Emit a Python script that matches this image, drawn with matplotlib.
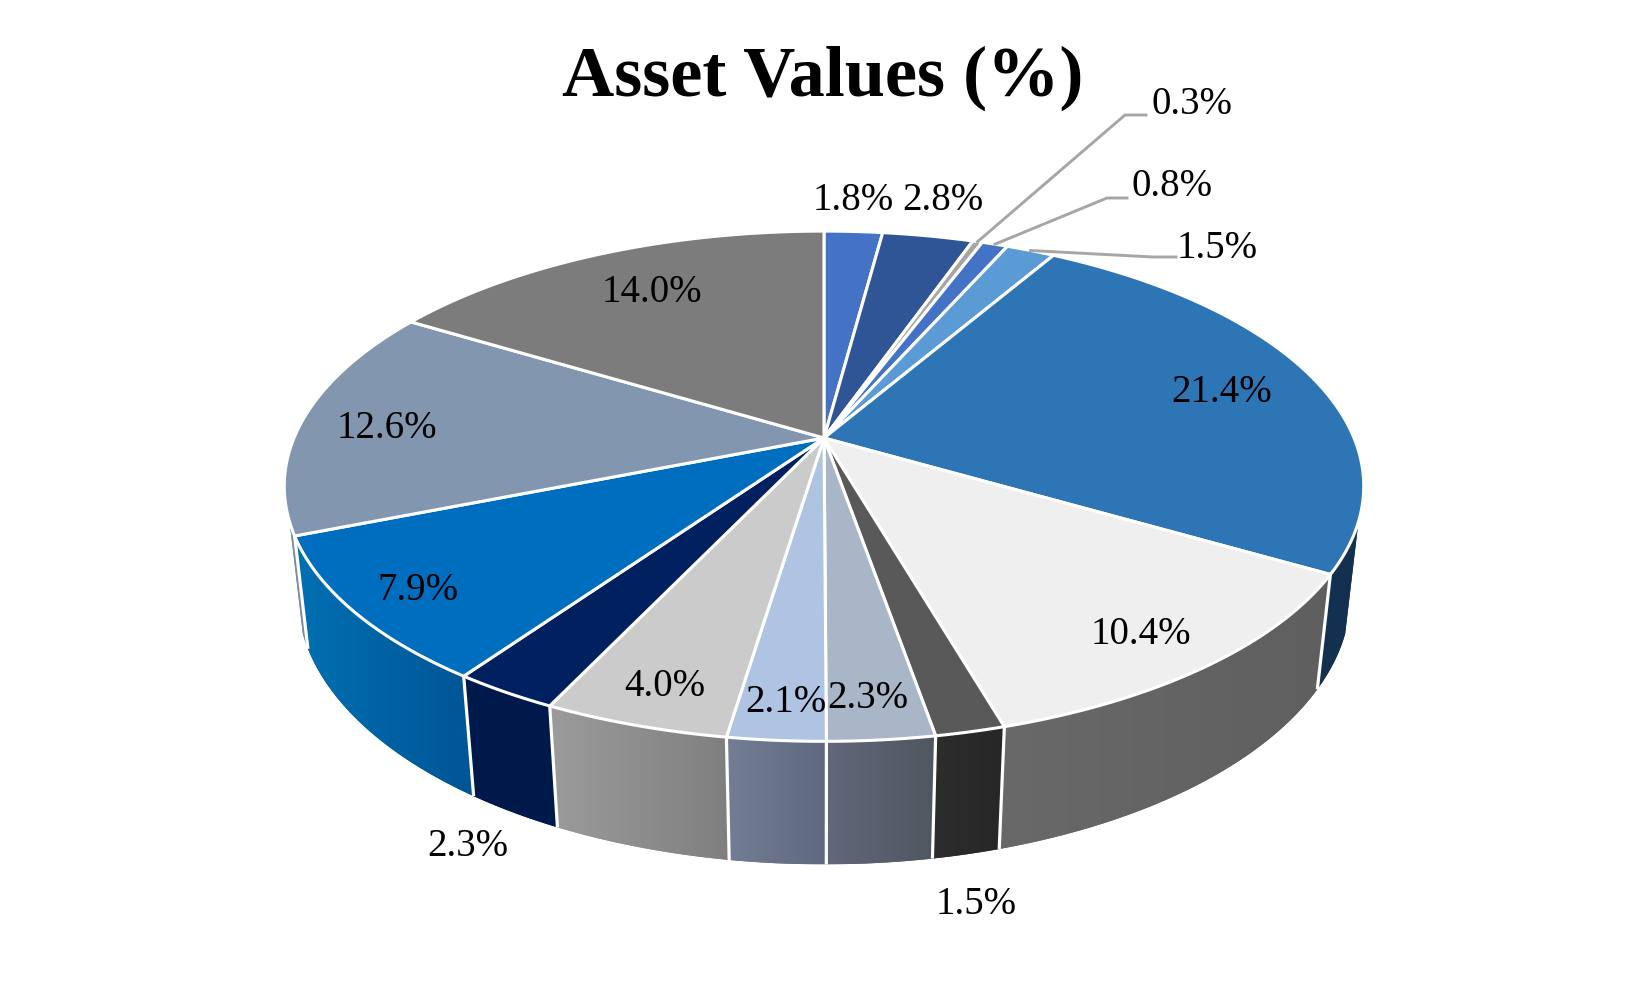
import numpy as np
import matplotlib
matplotlib.use('Agg')
import matplotlib.pyplot as plt
from matplotlib.colors import to_rgb
from matplotlib.patches import Polygon

plt.rcParams['font.family'] = ['Liberation Serif', 'DejaVu Serif']

# data
labels = ['1.8%', '2.8%', '0.3%', '0.8%', '1.5%', '21.4%', '10.4%', '1.5%',
          '2.3%', '2.1%', '4.0%', '2.3%', '7.9%', '12.6%', '14.0%']
values = [1.8, 2.8, 0.3, 0.8, 1.5, 21.4, 10.4, 1.5, 2.3, 2.1, 4.0, 2.3, 7.9, 12.6, 14.0]

top_colors = ['#4472C4', '#2F5597', '#A5A5A5', '#4472C4', '#5B9BD5', '#2E75B6', '#EFEFEF',
              '#595959', '#A9B6C7', '#AFC3E2', '#CCCBCC', '#002060', '#006EBE', '#8296AF', '#7C7C7C']
wall_left = ['#2A4577', '#1D3560', '#666666', '#2A4577', '#38618A', '#143050', '#696969',
             '#2D2D2D', '#62677A', '#737D94', '#9C9B9C', '#00194B', '#0070B2', '#8090A8', '#505050']
wall_right = ['#2A4577', '#1D3560', '#666666', '#2A4577', '#38618A', '#143050', '#5F5F5F',
              '#272727', '#4F575F', '#5F6A80', '#7F7F7F', '#00194B', '#005595', '#7585A0', '#505050']

# label centres, px
label_x = [853, 943, 1192, 1172, 1217, 1222, 1141, 976, 868, 786, 665, 468, 418, 387, 652]
label_y = [200, 200, 105, 187, 249, 393, 634, 905, 699, 702, 686, 847, 590, 428, 293]
leader_idx = [2, 3, 4]
leader_elbow = [(1125, 115), (1107, 198), (1153, 257)]
leader_end = [(1146, 115), (1127, 198), (1176, 257)]

# pie projection, fitted to the picture
cx, cy = 824, 438
A, B, C = 530, 246, 110
k, m = 0.189, 0.024
silhouette = -0.32   # wall is only seen below this v


def project(theta, z=0.0):
    u, v = np.sin(theta), np.cos(theta)
    w = 1 + k * v + m * z
    return cx + A * u / w, cy + (-B * v + C * z) / w


fig = plt.figure(figsize=(16.49, 9.81), dpi=100)
ax = fig.add_axes([0, 0, 1, 1])

fractions = np.array(values) / np.sum(values)
edges = np.concatenate([[0], np.cumsum(fractions)]) * 2 * np.pi
vis_start = np.arccos(silhouette)
vis_end = 2 * np.pi - vis_start

# walls: flat polygon for a clean edge, gradient image clipped on top of it
for i in range(len(values)):
    t0, t1 = max(edges[i], vis_start), min(edges[i + 1], vis_end)
    if t1 <= t0:
        continue
    t = np.linspace(t0, t1, max(3, int((t1 - t0) * 200)))
    xt, yt = project(t)
    xb, yb = project(t, 1.0)
    pts = np.column_stack([np.r_[xt, xb[::-1]], np.r_[yt, yb[::-1]]])
    c0, c1 = np.array(to_rgb(wall_left[i])), np.array(to_rgb(wall_right[i]))
    ax.add_patch(Polygon(pts, closed=True, facecolor=(c0 + c1) / 2, edgecolor='none', zorder=1))
    grad = np.linspace(c0, c1, 64)[np.newaxis, :, :]
    im = ax.imshow(grad, extent=(pts[:, 0].min(), pts[:, 0].max(), pts[:, 1].max(), pts[:, 1].min()),
                   aspect='auto', interpolation='bilinear', zorder=2)
    im.set_clip_path(Polygon(pts, closed=True, transform=ax.transData))

ax.set_xlim(0, 1649)
ax.set_ylim(981, 0)
ax.axis('off')

for e in edges:
    if vis_start < e < vis_end:
        xt, yt = project(e)
        xb, yb = project(e, 1.0)
        ax.plot([xt, xb], [yt, yb], color='white', lw=2.3, zorder=3, solid_capstyle='butt')

# top face
for i in range(len(values)):
    t = np.linspace(edges[i], edges[i + 1], max(3, int((edges[i + 1] - edges[i]) * 200)))
    xt, yt = project(t)
    pts = np.column_stack([np.r_[cx, xt], np.r_[cy, yt]])
    ax.add_patch(Polygon(pts, closed=True, facecolor=top_colors[i], edgecolor='white',
                         lw=2.2, joinstyle='round', zorder=4))

# leader lines
for idx, elbow, end in zip(leader_idx, leader_elbow, leader_end):
    sx, sy = project((edges[idx] + edges[idx + 1]) / 2)
    ax.plot([sx, elbow[0], end[0]], [sy, elbow[1], end[1]], color='#A6A6A6', lw=2.1, zorder=5)

for name, lx, ly in zip(labels, label_x, label_y):
    ax.text(lx, ly, name, fontsize=28, color='black', ha='center', va='center', zorder=6)

ax.text(823, 78, 'Asset Values (%)', fontsize=52, fontweight='bold', color='black',
        ha='center', va='center', zorder=6)

fig.savefig('out.png', dpi=100, facecolor='white')
